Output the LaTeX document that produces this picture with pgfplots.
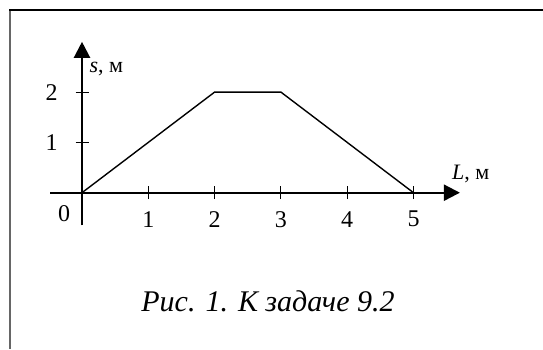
\documentclass[border=0pt]{standalone}
\usepackage{fontspec}
\setmainfont{Liberation Serif}
\usepackage{pgfplots}
\pgfplotsset{compat=1.18}
\usetikzlibrary{arrows.meta}
\begin{document}
\begin{tikzpicture}[x=1pt,y=1pt]
\useasboundingbox (0,0) rectangle (543,349);
% frame around the figure (open to the right and bottom)
\draw[line width=2pt, black!60] (10,339) -- (10,0);
\draw[line width=1.2pt, black] (9,339) -- (543,339);
\begin{axis}[
  at={(82pt,156.3pt)}, anchor=origin,
  x=66.3pt, y=50.3pt,
  xmin=-0.48, xmax=5.7, ymin=-0.65, ymax=3.0,
  axis lines=middle,
  axis line style={line width=2.2pt},
  every inner x axis line/.append style={-{Triangle[length=16pt,width=16pt]}},
  every inner y axis line/.append style={-{Triangle[length=16pt,width=16pt]}},
  xtick={1,2,3,4,5}, ytick={1,2},
  tick align=center,
  major tick length=13pt,
  every tick/.style={black, line width=1pt},
  /pgf/number format/assume math mode=true,
  tick label style={font=\fontsize{24}{28}\selectfont},
  xticklabel style={anchor=center, yshift=-20pt},
  yticklabel style={anchor=center, xshift=-24pt},
  clip=false,
]
\addplot[black, line width=1.4pt] coordinates {(0,0) (2,2) (3,2) (5,0)};
\node[font=\fontsize{24}{28}\selectfont] at (axis cs:-0.27,-0.41) {0};
\node[anchor=base west, font=\fontsize{22}{26}\selectfont] at (axis cs:5.53,0.27) {\textit{L}, м};
\node[anchor=base west, font=\fontsize{22}{26}\selectfont] at (axis cs:0.06,2.38) {\textit{s}, м};
\end{axis}
\node[anchor=base, font=\fontsize{30}{34}\selectfont\itshape] at (268,37.3) {Рис. 1. К задаче 9.2};
\end{tikzpicture}
\end{document}
